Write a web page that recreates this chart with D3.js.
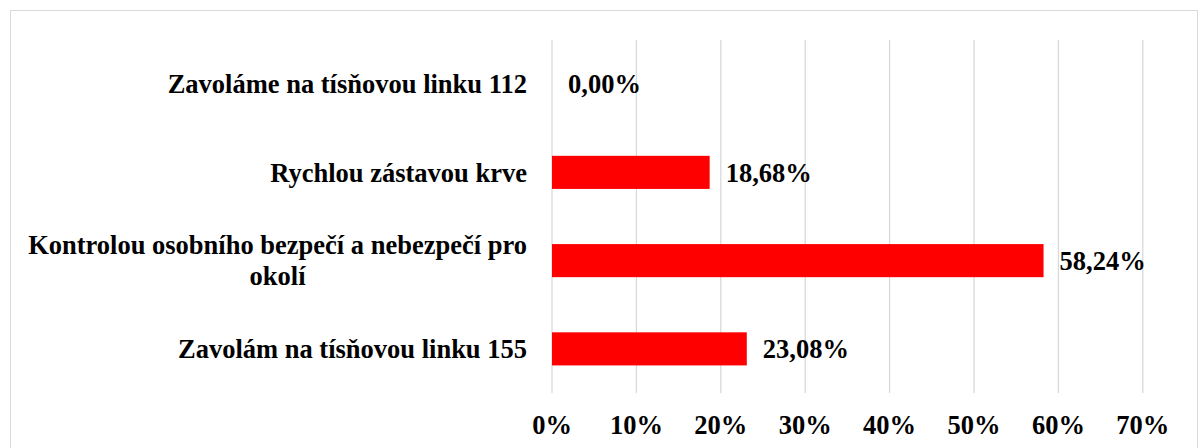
<!DOCTYPE html>
<meta charset="utf-8">
<script src="https://d3js.org/d3.v7.min.js"></script>
<style>
    body { margin: 0; background: #fff; }
    text { font-family: "Liberation Serif", "Times New Roman", serif; font-weight: bold; fill: #000; }
</style>
<div id="chart"></div>
<script>
    // Data
    const categories = [
        "Zavoláme na tísňovou linku 112",
        "Rychlou zástavou krve",
        "Kontrolou osobního bezpečí a nebezpečí pro okolí",
        "Zavolám na tísňovou linku 155"
    ];
    const values = [0, 18.68, 58.24, 23.08];
    const ticks = [0, 10, 20, 30, 40, 50, 60, 70];

    const W = 1202, H = 448;
    const margin = {top: 40, left: 552, right: 59, bottom: 55};
    const fs = "26.5px";

    const svg = d3.select("#chart")
                .append("svg")
                .attr("width", W)
                .attr("height", H);

    // chart area border
    svg.append("rect")
        .attr("x", 10.5).attr("y", 10.5)
        .attr("width", 1187).attr("height", 460)
        .attr("fill", "none")
        .attr("stroke", "#d9d9d9");

    const g = svg.append("g")
                .attr("transform", `translate(${margin.left}, ${margin.top})`);

    // X scale
    const x = d3.scaleLinear()
                .domain([0, 70])
                .range([0, 84.4 * 7]);

    // Y scale
    const y = d3.scaleBand()
                .domain(categories)
                .range([0, 353])
                .paddingInner(0.625)
                .paddingOuter(0.3125);

    // gridlines
    g.append("g")
        .selectAll("line")
        .data(ticks)
        .join("line")
            .attr("x1", d => x(d)).attr("x2", d => x(d))
            .attr("y1", 0).attr("y2", 353)
            .attr("stroke", "#d9d9d9")
            .attr("stroke-width", 1.3);

    // x tick labels
    g.append("g")
        .selectAll("text")
        .data(ticks)
        .join("text")
            .attr("x", d => x(d))
            .attr("y", 394)
            .attr("text-anchor", "middle")
            .style("font-size", fs)
            .text(d => d + "%");

    // bars
    g.append("g")
        .selectAll("rect")
        .data(values)
        .join("rect")
            .attr("x", x(0))
            .attr("y", (d, i) => y(categories[i]))
            .attr("width", d => x(d) - x(0))
            .attr("height", y.bandwidth())
            .attr("fill", "#ff0000");

    // value labels
    g.append("g")
        .selectAll("text")
        .data(values)
        .join("text")
            .attr("x", d => x(d) + 16)
            .attr("y", (d, i) => y(categories[i]) + y.bandwidth() / 2)
            .attr("dy", "0.35em")
            .style("font-size", fs)
            .text(d => d.toFixed(2).replace(".", ",") + "%");

    // category labels (wrapped, lines centered, block right-aligned)
    const maxW = 515;
    categories.forEach(function(c, i) {
        const cy = y(c) + y.bandwidth() / 2;
        const t = g.append("text")
                    .style("font-size", fs)
                    .attr("text-anchor", "middle");
        const words = c.split(" ");
        let lines = [], line = [];
        words.forEach(function(w) {
            line.push(w);
            t.text(line.join(" "));
            if (t.node().getComputedTextLength() > maxW && line.length > 1) {
                line.pop();
                lines.push(line.join(" "));
                line = [w];
            }
        });
        lines.push(line.join(" "));
        t.text(null);
        // measure widest line
        let widest = 0;
        lines.forEach(function(l) {
            t.text(l);
            widest = Math.max(widest, t.node().getComputedTextLength());
        });
        t.text(null);
        const lh = 31;
        const cx = -25 - widest / 2;
        lines.forEach(function(l, k) {
            t.append("tspan")
                .attr("x", cx)
                .attr("y", cy + (k - (lines.length - 1) / 2) * lh)
                .attr("dy", "0.35em")
                .text(l);
        });
    });
</script>
